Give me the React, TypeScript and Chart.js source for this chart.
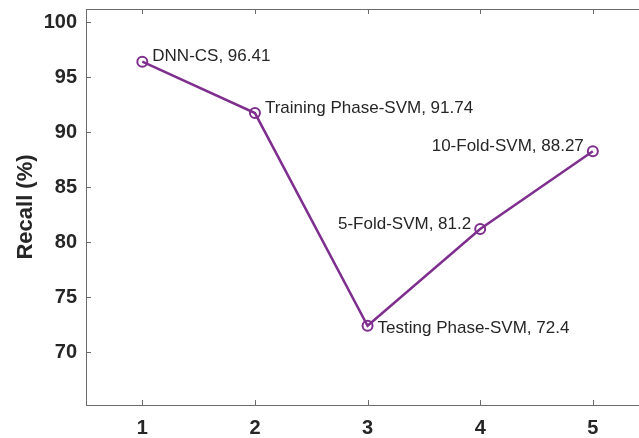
import React, { useEffect, useRef } from "react";
import { Chart, registerables } from "chart.js";

Chart.register(...registerables);

const categories = ["DNN-CS", "Training Phase-SVM", "Testing Phase-SVM", "5-Fold-SVM", "10-Fold-SVM"];
const xPositions = [1, 2, 3, 4, 5];
const recall = [96.41, 91.74, 72.4, 81.2, 88.27];
const labelSide = ["right", "right", "right", "left", "left"];
const yTicks = [70, 75, 80, 85, 90, 95, 100];
const xTicks = [1, 2, 3, 4, 5];

const FONT = "'Liberation Sans', Arial, Helvetica, sans-serif";
const PURPLE = "#7E2F8E";
const AXIS = "#6b6b6b";
const TEXT = "#262626";

const matlabPlugin = {
  id: "matlabDecor",
  afterDatasetsDraw(chart: any) {
    const { ctx, chartArea, scales } = chart;
    const xs = scales.x;
    const ys = scales.y;
    ctx.save();
    ctx.strokeStyle = AXIS;
    ctx.lineWidth = 1;
    ctx.beginPath();
    ctx.moveTo(chartArea.left, chartArea.top + 0.5);
    ctx.lineTo(chartArea.right, chartArea.top + 0.5);
    ctx.stroke();
    const tl = 5;
    ctx.beginPath();
    xTicks.forEach((v) => {
      const px = Math.round(xs.getPixelForValue(v)) + 0.5;
      ctx.moveTo(px, chartArea.bottom);
      ctx.lineTo(px, chartArea.bottom - tl);
      ctx.moveTo(px, chartArea.top);
      ctx.lineTo(px, chartArea.top + tl);
    });
    yTicks.forEach((v) => {
      const py = Math.round(ys.getPixelForValue(v)) + 0.5;
      ctx.moveTo(chartArea.left, py);
      ctx.lineTo(chartArea.left + tl, py);
    });
    ctx.stroke();

    ctx.fillStyle = TEXT;
    ctx.font = `17px ${FONT}`;
    ctx.textBaseline = "middle";
    categories.forEach((name, i) => {
      const px = xs.getPixelForValue(xPositions[i]);
      const py = ys.getPixelForValue(recall[i]);
      const txt = `${name}, ${recall[i]}`;
      if (labelSide[i] === "right") {
        ctx.textAlign = "left";
        ctx.fillText(txt, px + 10, py + (i === 2 ? 3 : -5));
      } else {
        ctx.textAlign = "right";
        ctx.fillText(txt, px - 9, py - 5);
      }
    });
    ctx.restore();
  },
};

export default function App() {
  const ref = useRef<HTMLCanvasElement>(null);
  useEffect(() => {
    document.body.style.margin = "0";
    const chart = new Chart(ref.current!, {
      type: "line",
      data: {
        datasets: [
          {
            data: xPositions.map((x, i) => ({ x, y: recall[i] })),
            borderColor: PURPLE,
            borderWidth: 2.5,
            pointRadius: 5,
            pointBorderWidth: 2,
            pointBackgroundColor: "rgba(0,0,0,0)",
            pointBorderColor: PURPLE,
            fill: false,
            tension: 0,
          },
        ],
      },
      options: {
        animation: false,
        responsive: false,
        maintainAspectRatio: false,
        layout: { autoPadding: false, padding: { top: 9, right: 0, bottom: 0, left: 0 } },
        plugins: { legend: { display: false }, tooltip: { enabled: false } },
        scales: {
          x: {
            type: "linear",
            min: 0.5,
            max: 5.41,
            afterBuildTicks: (s: any) => {
              s.ticks = xTicks.map((v) => ({ value: v }));
            },
            afterFit: (s: any) => {
              s.height = 33;
              s.paddingLeft = 0;
              s.paddingRight = 0;
            },
            grid: { display: false, drawTicks: false },
            border: { display: true, color: AXIS, width: 1 },
            ticks: {
              color: TEXT,
              font: { family: FONT, size: 20, weight: "bold" },
              padding: 11,
              maxRotation: 0,
            },
          },
          y: {
            type: "linear",
            min: 65.2,
            max: 101.2,
            afterBuildTicks: (s: any) => {
              s.ticks = yTicks.map((v) => ({ value: v }));
            },
            afterFit: (s: any) => {
              s.width = 86;
              s.paddingTop = 0;
              s.paddingBottom = 0;
            },
            grid: { display: false, drawTicks: false },
            border: { display: true, color: AXIS, width: 1 },
            ticks: {
              color: TEXT,
              font: { family: FONT, size: 20, weight: "bold" },
              padding: 9,
            },
            title: {
              display: true,
              text: "Recall (%)",
              color: TEXT,
              font: { family: FONT, size: 22, weight: "bold" },
              padding: { top: 13, bottom: 0 },
            },
          },
        },
      },
      plugins: [matlabPlugin],
    });
    return () => chart.destroy();
  }, []);
  return (
    <div style={{ position: "absolute", left: 0, top: 0, width: 639, height: 438, background: "#fff" }}>
      <canvas ref={ref} width={639} height={438} style={{ width: 639, height: 438 }} />
    </div>
  );
}
